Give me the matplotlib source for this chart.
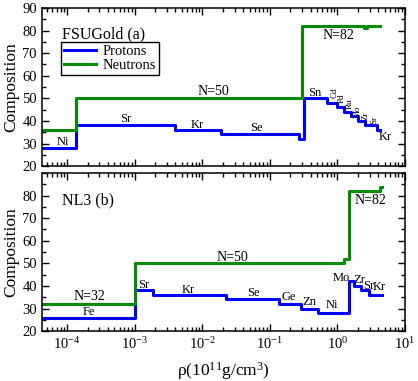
import matplotlib
matplotlib.use("Agg")
import matplotlib.pyplot as plt
from matplotlib.ticker import MultipleLocator, LogLocator, NullFormatter

plt.rcParams["font.family"] = "Liberation Serif"
plt.rcParams["mathtext.fontset"] = "custom"
plt.rcParams["mathtext.rm"] = "Liberation Serif"
plt.rcParams["mathtext.it"] = "Liberation Serif:italic"
plt.rcParams["mathtext.default"] = "regular"

BLUE = "#0000ff"
GREEN = "#008b00"

# FSUGold (a)
fsu_rho_p = [3e-5, 1.36e-4, 3.97e-3, 0.0187, 0.272, 0.315, 0.71, 0.98, 1.23, 1.58, 2.0, 2.56, 3.88, 4.3]
fsu_z = [28, 38, 36, 34, 32, 50, 48, 46, 44, 42, 40, 38, 36, 36]
fsu_rho_n = [3e-5, 1.36e-4, 0.30, 2.45, 2.7, 4.3]
fsu_n = [36, 50, 82, 81, 82, 82]

# NL3 (b)
nl3_rho_p = [3e-5, 1.02e-3, 1.85e-3, 0.022, 0.138, 0.29, 0.51, 1.49, 1.77, 2.23, 2.9, 4.6]
nl3_z = [26, 38, 36, 34, 32, 30, 28, 42, 40, 38, 36, 36]
nl3_rho_n = [3e-5, 1.0e-3, 1.23, 1.46, 4.3, 4.6]
nl3_n = [32, 50, 52, 82, 84, 84]

# labels: (text, rho, value, size, rotation)
fsu_labels = [
    ("Ni", 8.5e-5, 30.5, 9, 0), ("Sr", 7.3e-4, 40.7, 9, 0),
    ("Kr", 8.3e-3, 38.0, 9, 0), ("N=50", 0.0145, 53.1, 10, 0),
    ("Se", 0.062, 36.8, 9, 0), ("N=82", 1.04, 77.7, 10, 0),
    ("Sn", 0.46, 52.3, 9, 0), ("Cd", 0.90, 52.4, 6.5, 90),
    ("Pd", 1.17, 49.9, 6.5, 90), ("Ru", 1.50, 47.6, 6.5, 90),
    ("Mo", 1.97, 44.2, 6.5, 90), ("Zr", 2.6, 42.1, 6.5, 90),
    ("Sr", 3.5, 40.6, 6.5, 90), ("Kr", 5.1, 32.9, 9, 0),
]
nl3_labels = [
    ("N=32", 2.1e-4, 35.2, 10), ("Fe", 2.1e-4, 28.6, 9),
    ("Sr", 1.35e-3, 40.5, 9), ("Kr", 6.1e-3, 38.3, 9),
    ("N=50", 0.028, 52.7, 10), ("Se", 0.056, 36.9, 9),
    ("Ge", 0.19, 35.2, 9), ("Zn", 0.39, 33.0, 9),
    ("Ni", 0.84, 31.4, 9), ("Mo", 1.12, 43.7, 9),
    ("Zr", 2.07, 42.8, 9), ("Sr", 2.85, 40.1, 9),
    ("Kr", 4.2, 39.6, 9), ("N=82", 3.05, 77.7, 10),
]

fig = plt.figure(figsize=(4.18, 3.81), dpi=100)
ax1 = fig.add_axes([0.100, 0.564, 0.869, 0.415])
ax2 = fig.add_axes([0.100, 0.131, 0.869, 0.415])


def style(ax):
    ax.set_xscale("log")
    ax.set_xlim(4.2e-5, 10)
    ax.set_ylim(20, 90)
    ax.xaxis.set_major_locator(LogLocator(base=10, numticks=12))
    ax.xaxis.set_minor_locator(LogLocator(base=10, subs=range(2, 10), numticks=12))
    ax.xaxis.set_minor_formatter(NullFormatter())
    ax.yaxis.set_minor_locator(MultipleLocator(5))
    ax.tick_params(which="both", direction="in", top=True, right=True, labelsize=10.5, width=1)
    ax.tick_params(which="major", length=5)
    ax.tick_params(which="minor", length=3)
    for s in ax.spines.values():
        s.set_linewidth(1.1)
    ax.set_ylabel("Composition", fontsize=12.5, labelpad=2)


style(ax1)
style(ax2)
ax1.set_yticks(range(20, 91, 10))
ax1.tick_params(labelbottom=False)
ax2.set_yticks(range(20, 81, 10))

l1, = ax1.plot(fsu_rho_p, fsu_z, color=BLUE, lw=2.2, drawstyle="steps-post", label="Protons")
l2, = ax1.plot(fsu_rho_n, fsu_n, color=GREEN, lw=2.2, drawstyle="steps-post", label="Neutrons")
ax2.plot(nl3_rho_p, nl3_z, color=BLUE, lw=2.2, drawstyle="steps-post")
ax2.plot(nl3_rho_n, nl3_n, color=GREEN, lw=2.2, drawstyle="steps-post")

for t, x, y, fs, rot in fsu_labels:
    ax1.text(x, y, t, fontsize=fs, rotation=rot, ha="center", va="center")
for t, x, y, fs in nl3_labels:
    ax2.text(x, y, t, fontsize=fs, ha="center", va="center")

ax1.text(0.055, 0.835, "FSUGold (a)", transform=ax1.transAxes, fontsize=11.5, va="center")
ax2.text(0.055, 0.825, "NL3 (b)", transform=ax2.transAxes, fontsize=11.5, va="center")

leg = ax1.legend(handles=[l1, l2], loc="upper left", bbox_to_anchor=(0.052, 0.785),
                 borderaxespad=0, fontsize=10.5, fancybox=False, framealpha=1,
                 handlelength=2.2, handletextpad=0.5, borderpad=0.2, labelspacing=0.05)
leg.get_frame().set_edgecolor("black")
leg.get_frame().set_linewidth(1.0)

ax2.set_xlabel(r"$\rho$(10$^{11}$g/cm$^{3}$)", fontsize=12.5, labelpad=6)

fig.savefig("out.png", dpi=100)
